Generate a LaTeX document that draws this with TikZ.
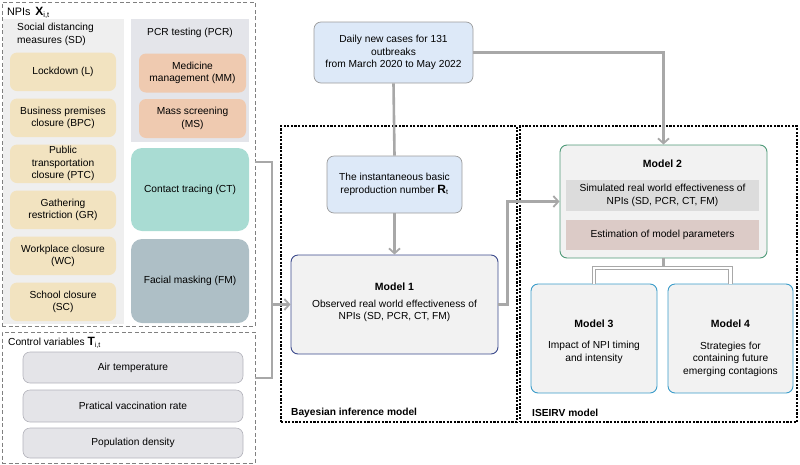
\documentclass[tikz,border=0pt]{standalone}
\usepackage{fontspec}
\setmainfont{Liberation Sans}
\usetikzlibrary{arrows.meta}
\definecolor{sdbg}{HTML}{EFEFEF}
\definecolor{pcrbg}{HTML}{E4E5EA}
\definecolor{beige}{HTML}{F2E3C0}
\definecolor{salmon}{HTML}{EFCAB0}
\definecolor{teal}{HTML}{A9DCD3}
\definecolor{fmcol}{HTML}{AEBFC6}
\definecolor{ctrlfill}{HTML}{E4E4E8}
\definecolor{ctrlline}{HTML}{B3B3BB}
\definecolor{lblue}{HTML}{DDE9F8}
\definecolor{boxline}{HTML}{9C9C9C}
\definecolor{mfill}{HTML}{F2F2F2}
\definecolor{monecol}{HTML}{3B4A8C}
\definecolor{mtwocol}{HTML}{4E9A78}
\definecolor{mthreecol}{HTML}{3A9CC9}
\definecolor{innera}{HTML}{DCDCDC}
\definecolor{innerb}{HTML}{DCCBC7}
\definecolor{conncol}{HTML}{A8A8A8}
\definecolor{dashcol}{HTML}{808080}
\begin{document}
\begin{tikzpicture}[x=1pt,y=-1pt,
  font=\fontsize{10.2}{12.5}\selectfont,
  rbox/.style={rounded corners=7pt, align=center, inner sep=2pt},
  sdbox/.style={rbox, fill=beige, minimum width=106pt, minimum height=38.5pt},
  pcrbox/.style={rbox, fill=salmon, minimum width=107pt, minimum height=39pt},
  ctrlbox/.style={rbox, fill=ctrlfill, draw=ctrlline, line width=0.6pt, minimum width=220pt, minimum height=30pt},
  bluebox/.style={rbox, fill=lblue, draw=boxline, line width=0.7pt},
  modelbox/.style={rbox, fill=mfill, line width=0.9pt},
  dashbox/.style={draw=dashcol, line width=0.8pt, dash pattern=on 4pt off 2.5pt},
  dotbox/.style={draw=black, line width=2.4pt, dash pattern=on 2.2pt off 1.4pt},
  conn/.style={draw=conncol, line width=2.6pt},
  arr/.style={conn, -{Straight Barb[length=5pt,width=11pt,line width=1.8pt]}},
  split/.style={draw=conncol, line width=1.3pt, double=white, double distance=2.2pt},
  ttl/.style={font=\fontsize{10.5}{12.5}\selectfont\bfseries}
]
\useasboundingbox (0,0) rectangle (800,464);

% ---------- NPI panel ----------
\fill[sdbg] (3,19) rectangle (124,324);
\fill[pcrbg] (131,19) rectangle (249,142);
\node[dashbox, minimum width=253pt, minimum height=324pt, inner sep=0pt] (npi) at (128.5,164) {};
\node[anchor=west, inner sep=0pt, font=\fontsize{10.8}{12.5}\selectfont] (npit) at (7,13) {NPIs\, \textbf{\large X}\textsubscript{i,t}};
\node[anchor=north west, align=left, inner sep=0pt] (sdh) at (17,23) {Social distancing\\measures (SD)};
\node[inner sep=0pt] (pcrh) at (190,33) {PCR testing (PCR)};

\node[sdbox] (L)   at (63,71.8)  {Lockdown (L)};
\node[sdbox] (BPC) at (63,117.8) {Business premises\\closure (BPC)};
\node[sdbox] (PTC) at (63,163.8) {Public\\transportation\\closure (PTC)};
\node[sdbox] (GR)  at (63,209.8) {Gathering\\restriction (GR)};
\node[sdbox] (WC)  at (63,255.8) {Workplace closure\\(WC)};
\node[sdbox] (SC)  at (63,301.8) {School closure\\(SC)};

\node[pcrbox] (MM) at (192.5,73)   {Medicine\\management (MM)};
\node[pcrbox] (MS) at (192.5,118.5) {Mass screening\\(MS)};
\node[rbox, rounded corners=11pt, fill=teal, minimum width=118pt, minimum height=83pt] (CT) at (190,189.5) {Contact tracing (CT)};
\node[rbox, rounded corners=11pt, fill=fmcol, minimum width=118pt, minimum height=84pt] (FM) at (190,281) {Facial masking (FM)};

% ---------- Control panel ----------
\node[dashbox, minimum width=253pt, minimum height=131pt, inner sep=0pt] (ctrl) at (128.5,397.5) {};
\node[anchor=west, inner sep=0pt] (ctrlt) at (8,343) {Control variables \textbf{\large T}\textsubscript{i,t}};
\node[ctrlbox, minimum height=31pt] (air) at (133,367.5) {Air temperature};
\node[ctrlbox, minimum height=32pt] (vac) at (133,406) {Pratical vaccination rate};
\node[ctrlbox] (pop) at (133,443) {Population density};

% ---------- dotted frames ----------
\node[dotbox, minimum width=236pt, minimum height=296pt, inner sep=0pt] (bay) at (399,274) {};
\node[dotbox, minimum width=277pt, minimum height=296pt, inner sep=0pt] (ise) at (658.5,274) {};
\node[anchor=west, inner sep=0pt, font=\fontsize{10.2}{12}\selectfont\bfseries] (bayt) at (291,413) {Bayesian inference model};
\node[anchor=west, inner sep=0pt, font=\fontsize{10.2}{12}\selectfont\bfseries] (iset) at (532,413) {ISEIRV model};

% ---------- middle ----------
\node[bluebox, minimum width=159pt, minimum height=61pt] (daily) at (393.5,52.5) {Daily new cases for 131\\outbreaks\\from March 2020 to May 2022};
\node[bluebox, minimum width=135pt, minimum height=57pt] (rt) at (394.5,184.5) {The instantaneous basic\\reproduction number \textbf{\large R}\textsubscript{t}};
\node[modelbox, draw=monecol, minimum width=207pt, minimum height=99pt] (m1) at (394.5,304.5) {};
\node[ttl] (m1t) at (394.5,287) {Model 1};
\node[align=center, inner sep=0pt] (m1x) at (394.5,311) {Observed real world effectiveness of\\NPIs (SD, PCR, CT, FM)};

% ---------- right ----------
\node[modelbox, draw=mtwocol, minimum width=207pt, minimum height=113pt] (m2) at (663.5,201.5) {};
\node[ttl] (m2t) at (662.5,164) {Model 2};
\node[fill=innera, minimum width=193pt, minimum height=31pt, align=center, inner sep=0pt] (in1) at (662.5,195.5) {Simulated real world effectiveness of\\NPIs (SD, PCR, CT, FM)};
\node[fill=innerb, minimum width=193pt, minimum height=30pt, inner sep=0pt] (in2) at (662.5,235) {Estimation of model parameters};

\node[modelbox, draw=mthreecol, minimum width=126pt, minimum height=109pt] (m3) at (594,338.5) {};
\node[ttl] (m3t) at (594,324) {Model 3};
\node[align=center, inner sep=0pt] (m3x) at (594,352.5) {Impact of NPI timing\\and intensity};
\node[modelbox, draw=mthreecol, minimum width=125pt, minimum height=109pt] (m4) at (730.5,338.5) {};
\node[ttl] (m4t) at (730.5,324) {Model 4};
\node[align=center, inner sep=0pt] (m4x) at (730.5,359) {Strategies for\\containing future\\emerging contagions};

% ---------- connectors ----------
\coordinate (c1) at (255,162);
\coordinate (c2) at (255,378);
\coordinate (j) at (272,304.5);
\draw[conn] (c1) -| (j);
\draw[conn] (c2) -| (j);
\draw[arr] (j) -- (m1.west);

\draw[conn] (daily.south) -- (rt.north);
\draw[arr] (rt.south) -- (m1.north);
\draw[arr] (daily.east) -| (m2.north);
\draw[arr] (m1.east) -- ++(9,0) |- (m2.west);

\coordinate (s) at (663.5,268);
\draw[conn] (m2.south) -- (s);
\draw[split] (m3.north) |- (s) -| (m4.north);
\end{tikzpicture}
\end{document}
